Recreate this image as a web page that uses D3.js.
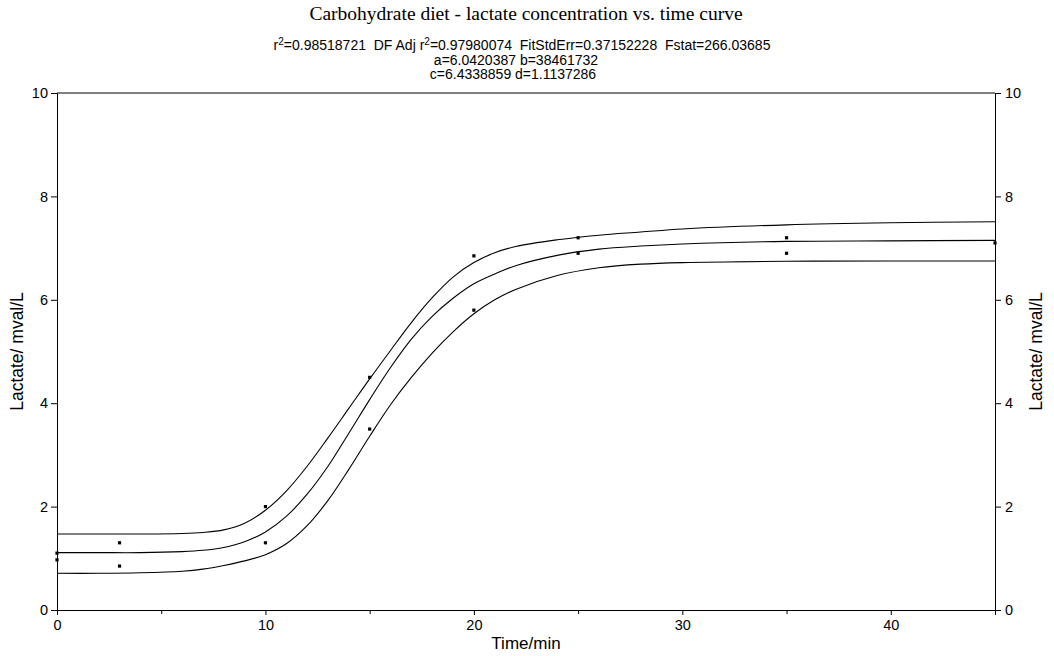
<!DOCTYPE html>
<html>
<head>
<meta charset="utf-8">
<script src="https://cdn.jsdelivr.net/npm/d3@7"></script>
<style>
  html, body { margin: 0; padding: 0; background: #fff; }
  svg { display: block; }
</style>
</head>
<body>
<svg id="chart" width="1054" height="656"></svg>
<script>
// ---- Data ----
const title = "Carbohydrate diet - lactate concentration vs. time curve";
const statsLine1 = [
  {t: "r"}, {t: "2", sup: true}, {t: "=0.98518721  DF Adj r"}, {t: "2", sup: true},
  {t: "=0.97980074  FitStdErr=0.37152228  Fstat=266.03685"}
];
const statsLine2 = "a=6.0420387 b=38461732";
const statsLine3 = "c=6.4338859 d=1.1137286";
const xLabel = "Time/min";
const yLabel = "Lactate/ mval/L";

const xTicks = [0, 10, 20, 30, 40];
const xMinorTicks = [5, 15, 25, 35, 45];
const yTicks = [0, 2, 4, 6, 8, 10];

// measured points
const obsTime    = [0, 0, 3, 3, 10, 10, 15, 15, 20, 20, 25, 25, 35, 35, 45];
const obsLactate = [1.1, 0.97, 1.3, 0.85, 2.0, 1.3, 4.5, 3.5, 6.85, 5.8, 7.2, 6.9, 7.2, 6.9, 7.1];

// curves (fit and its band), read at these times
const curveTime  = [0, 2, 4, 6, 7, 8, 9, 10, 11, 12, 13, 14, 15, 16, 17, 18, 19, 20, 21, 22, 24, 26, 28, 30, 35, 40, 45];
const fitCurve   = [1.11, 1.11, 1.11, 1.13, 1.155, 1.21, 1.32, 1.51, 1.81, 2.24, 2.78, 3.42, 4.07, 4.69, 5.24, 5.68, 6.03, 6.31, 6.5, 6.66, 6.86, 6.98, 7.04, 7.08, 7.13, 7.14, 7.15];
const upperCurve = [1.47, 1.47, 1.47, 1.48, 1.5, 1.55, 1.68, 1.93, 2.3, 2.78, 3.33, 3.9, 4.47, 5.02, 5.56, 6.04, 6.44, 6.72, 6.91, 7.03, 7.16, 7.25, 7.31, 7.37, 7.45, 7.49, 7.51];
const lowerCurve = [0.71, 0.71, 0.72, 0.75, 0.79, 0.86, 0.95, 1.07, 1.28, 1.63, 2.12, 2.72, 3.36, 3.97, 4.5, 4.97, 5.38, 5.73, 6.0, 6.2, 6.47, 6.62, 6.69, 6.72, 6.745, 6.75, 6.75];

// ---- Layout ----
const W = 1054, H = 656;
const m = {left: 57, right: 59, top: 93, bottom: 46};
const svg = d3.select("#chart");
const sans = "'Liberation Sans', Arial, sans-serif";
const serif = "'Liberation Serif', 'Times New Roman', serif";

const x = d3.scaleLinear().domain([0, 45]).range([m.left, W - m.right]);
const y = d3.scaleLinear().domain([0, 10]).range([H - m.bottom, m.top]);

// Titles
svg.append("text").attr("x", 526).attr("y", 20).attr("text-anchor", "middle")
  .attr("font-family", serif).attr("font-size", 19.5).text(title);

const l1 = svg.append("text").attr("x", 522).attr("y", 50).attr("text-anchor", "middle")
  .attr("font-family", sans).attr("font-size", 14).attr("xml:space", "preserve");
statsLine1.forEach((s, i) => {
  const ts = l1.append("tspan").text(s.t);
  if (s.sup) ts.attr("font-size", 10).attr("dy", -5);
  else if (i > 0) ts.attr("dy", 5);
});

svg.append("text").attr("x", 516).attr("y", 64.5).attr("text-anchor", "middle")
  .attr("font-family", sans).attr("font-size", 14).text(statsLine2);
svg.append("text").attr("x", 513).attr("y", 79).attr("text-anchor", "middle")
  .attr("font-family", sans).attr("font-size", 14).text(statsLine3);

// Frame top line
svg.append("line").attr("x1", x(0)).attr("x2", x(45)).attr("y1", y(10)).attr("y2", y(10))
  .attr("stroke", "#000").attr("stroke-width", 1);

// Axes
const fmt = d3.format("d");
const gx = svg.append("g").attr("transform", `translate(0,${y(0)})`)
  .call(d3.axisBottom(x).tickValues(xTicks).tickFormat(fmt).tickSizeOuter(0).tickSize(5).tickPadding(3));
const gxMinor = svg.append("g").attr("transform", `translate(0,${y(0)})`)
  .call(d3.axisBottom(x).tickValues(xMinorTicks).tickFormat("").tickSizeOuter(0).tickSize(4));
gxMinor.select(".domain").remove();

const gyL = svg.append("g").attr("transform", `translate(${x(0)},0)`)
  .call(d3.axisLeft(y).tickValues(yTicks).tickFormat(fmt).tickSizeOuter(0).tickSize(6).tickPadding(3));
const gyR = svg.append("g").attr("transform", `translate(${x(45)},0)`)
  .call(d3.axisRight(y).tickValues(yTicks).tickFormat(fmt).tickSizeOuter(0).tickSize(6).tickPadding(4));

[gx, gxMinor, gyL, gyR].forEach(g => {
  g.selectAll("text").attr("font-family", sans).attr("font-size", 14.5).attr("fill", "#000");
  g.selectAll("line, path").attr("stroke", "#000").attr("stroke-width", 1);
});
gx.selectAll("text").attr("dy", "0.85em");

// Axis titles
svg.append("text").attr("x", 526).attr("y", 649).attr("text-anchor", "middle")
  .attr("font-family", sans).attr("font-size", 17).text(xLabel);
svg.append("text").attr("transform", `translate(23,${(y(0) + y(10)) / 2}) rotate(-90)`)
  .attr("text-anchor", "middle").attr("font-family", sans).attr("font-size", 17.5).text(yLabel);
svg.append("text").attr("transform", `translate(1042,${(y(0) + y(10)) / 2}) rotate(-90)`)
  .attr("text-anchor", "middle").attr("font-family", sans).attr("font-size", 17.5).text(yLabel);

// Curves
const line = d3.line().x(d => x(d[0])).y(d => y(d[1])).curve(d3.curveCatmullRom.alpha(0.5));
[upperCurve, fitCurve, lowerCurve].forEach(vals => {
  svg.append("path")
    .datum(curveTime.map((t, i) => [t, vals[i]]))
    .attr("d", line).attr("fill", "none").attr("stroke", "#000").attr("stroke-width", 1.1);
});

// Points
svg.append("g").selectAll("rect")
  .data(obsTime.map((t, i) => [t, obsLactate[i]]))
  .join("rect")
  .attr("x", d => x(d[0]) - 1.6).attr("y", d => y(d[1]) - 1.6)
  .attr("width", 3.2).attr("height", 3.2).attr("fill", "#000");
</script>
</body>
</html>
